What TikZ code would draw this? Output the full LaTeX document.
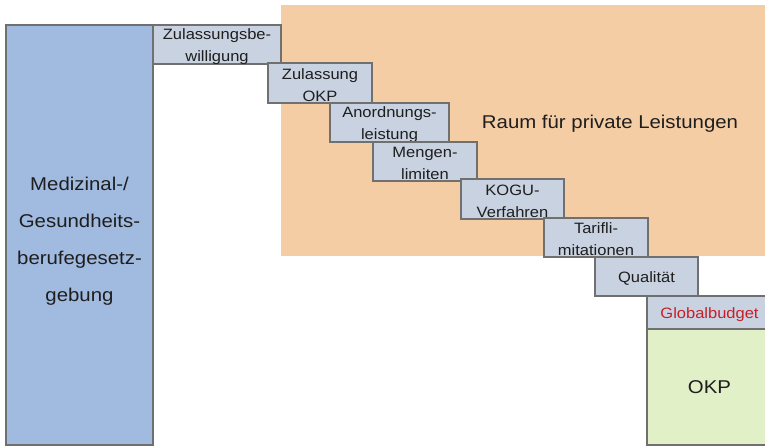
\documentclass[tikz,border=0pt]{standalone}
\usepackage{fontspec}
\setmainfont[FakeStretch=1.1]{Liberation Sans}
\usetikzlibrary{fit}
\definecolor{blueF}{RGB}{161,186,224}
\definecolor{orangeF}{RGB}{245,205,165}
\definecolor{stepF}{RGB}{200,210,224}
\definecolor{greenF}{RGB}{226,240,200}
\definecolor{edgeC}{RGB}{112,112,112}
\definecolor{txtC}{RGB}{30,30,30}
\definecolor{redT}{RGB}{200,30,40}
\begin{document}
\begin{tikzpicture}[x=0.75pt,y=-0.75pt,
  box/.style={draw=edgeC, line width=0.9pt, inner sep=0pt, outer sep=0pt},
  stepbox/.style={box, fill=stepF},
  steptext/.style={inner sep=0pt, yshift=-1.5pt, text=txtC, align=center, font=\fontsize{11.25}{16.5}\selectfont},
  bigtext/.style={inner sep=0pt, font=\fontsize{13.9}{27.75}\selectfont, text=txtC, align=center}]
\useasboundingbox (0,0) rectangle (765,447);
\clip (0,0) rectangle (765,447);
\node[fit={(281,5) (770,256)}, inner sep=0pt, outer sep=0pt, fill=orangeF] (priv) {};
\node[bigtext] (privt) at (610,123.5) {Raum für private Leistungen};
\node[box, fill=blueF, fit={(6,25) (153,445)}] (med) {};
\node[bigtext] (medt) at (79.5,241.5) {Medizinal-/\\Gesundheits-\\berufegesetz-\\gebung};
\node[stepbox, fit={(153,25) (281,64)}] (s1) {};
\node[steptext] (s1t) at (s1.center) {Zulassungsbe-\\willigung};
\node[stepbox, fit={(268,63) (372,103)}] (s2) {};
\node[steptext] (s2t) at (s2.center) {Zulassung\\OKP};
\node[stepbox, fit={(330,103) (449,142)}] (s3) {};
\node[steptext] (s3t) at (s3.center) {Anordnungs-\\leistung};
\node[stepbox, fit={(373,142) (477,181)}] (s4) {};
\node[steptext] (s4t) at (s4.center) {Mengen-\\limiten};
\node[stepbox, fit={(461,179) (564,219)}] (s5) {};
\node[steptext] (s5t) at (s5.center) {KOGU-\\Verfahren};
\node[stepbox, fit={(544,218) (648,257)}] (s6) {};
\node[steptext] (s6t) at (s6.center) {Tarifli-\\mitationen};
\node[stepbox, fit={(595,257) (698,296)}] (s7) {};
\node[steptext] (s7t) at (s7.center) {Qualität};
\node[stepbox, fit={(647,296) (772,329)}] (gb) {};
\node[steptext, text=redT] (gbt) at (gb.center) {Globalbudget};
\node[box, fill=greenF, fit={(647,329) (772,445)}] (okp) {};
\node[bigtext] (okpt) at (okp.center) {OKP};
\end{tikzpicture}
\end{document}
